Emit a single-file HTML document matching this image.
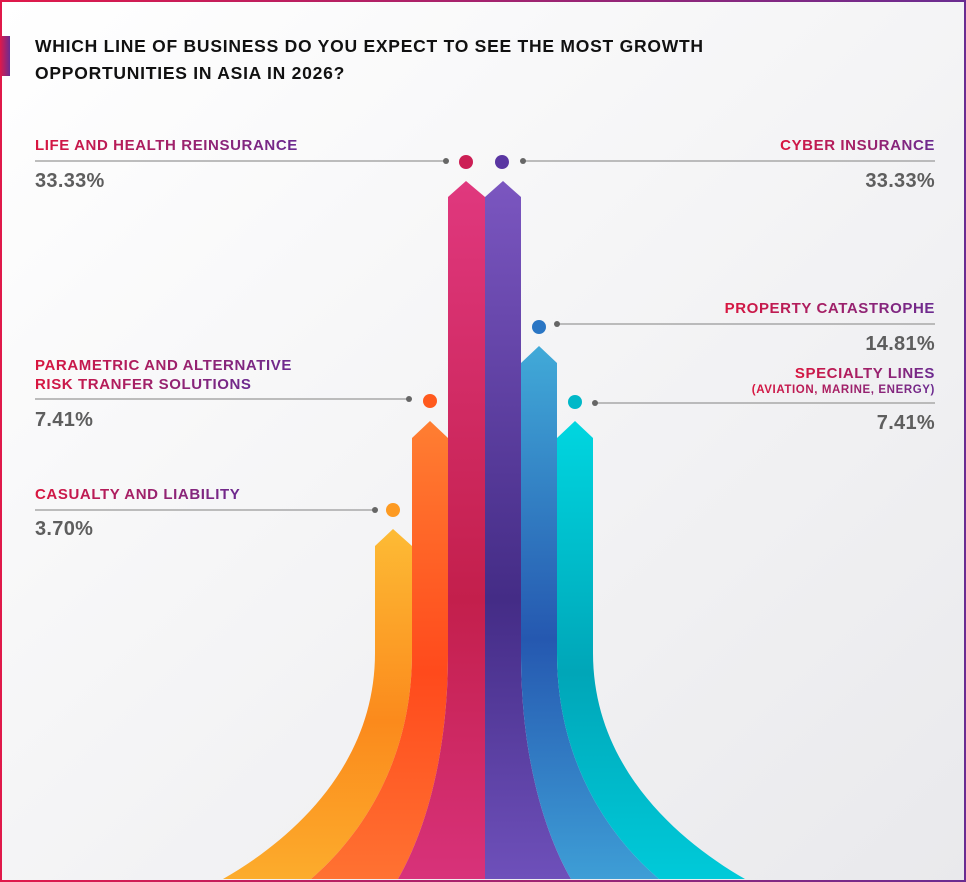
<!DOCTYPE html>
<html><head><meta charset="utf-8"><style>
html,body{margin:0;padding:0;background:#fff}
svg{display:block}
text{font-family:"Liberation Sans",sans-serif;font-weight:bold}
</style></head><body>
<svg width="966" height="882" viewBox="0 0 966 882" xmlns="http://www.w3.org/2000/svg">
<defs>
<linearGradient id="bg" x1="0" y1="0" x2="1" y2="1"><stop offset="0" stop-color="#ffffff"/><stop offset="1" stop-color="#e9e9ec"/></linearGradient>
<linearGradient id="frame" x1="0" y1="0" x2="1" y2="0"><stop offset="0" stop-color="#e0194a"/><stop offset="1" stop-color="#6a2c91"/></linearGradient>
<linearGradient id="tg" x1="0" y1="0" x2="1" y2="0"><stop offset="0" stop-color="#d9163f"/><stop offset="1" stop-color="#6b2a90"/></linearGradient>
<linearGradient id="acc" x1="0" y1="0" x2="1" y2="0"><stop offset="0" stop-color="#e0194a"/><stop offset="1" stop-color="#6a2c91"/></linearGradient>
<linearGradient id="g0" x1="0" y1="0" x2="0" y2="1"><stop offset="0" stop-color="#fdbb35"/><stop offset="0.55" stop-color="#fb8a1c"/><stop offset="1" stop-color="#fcac2c"/></linearGradient>
<linearGradient id="g1" x1="0" y1="0" x2="0" y2="1"><stop offset="0" stop-color="#ff7e32"/><stop offset="0.55" stop-color="#ff4a1c"/><stop offset="1" stop-color="#ff7232"/></linearGradient>
<linearGradient id="g2" x1="0" y1="0" x2="0" y2="1"><stop offset="0" stop-color="#e0387e"/><stop offset="0.6" stop-color="#c31f4c"/><stop offset="1" stop-color="#d8327a"/></linearGradient>
<linearGradient id="g3" x1="0" y1="0" x2="0" y2="1"><stop offset="0" stop-color="#7b56c0"/><stop offset="0.6" stop-color="#442c86"/><stop offset="1" stop-color="#6e50ba"/></linearGradient>
<linearGradient id="g4" x1="0" y1="0" x2="0" y2="1"><stop offset="0" stop-color="#41aad8"/><stop offset="0.55" stop-color="#2558b0"/><stop offset="1" stop-color="#3e9ed6"/></linearGradient>
<linearGradient id="g5" x1="0" y1="0" x2="0" y2="1"><stop offset="0" stop-color="#00d6e0"/><stop offset="0.55" stop-color="#00a6b8"/><stop offset="1" stop-color="#00cad9"/></linearGradient>
</defs>
<rect x="0" y="0" width="966" height="882" fill="url(#bg)"/>
<rect x="1" y="1" width="964" height="880" fill="none" stroke="url(#frame)" stroke-width="2"/>
<rect x="0" y="36" width="10" height="40" fill="url(#acc)"/>
<g letter-spacing="0.75">
<text x="35" y="52" font-size="17.5" fill="#111">WHICH LINE OF BUSINESS DO YOU EXPECT TO SEE THE MOST GROWTH</text>
<text x="35" y="79" font-size="17.5" fill="#111">OPPORTUNITIES IN ASIA IN 2026?</text>
</g>

<!-- bars -->
<path d="M375,546 L393,529 L412,546 L412,653 C412,766 356.4,840 311,879 L223,879 C291.4,840 375,766 375,653 Z" fill="url(#g0)"/>
<path d="M412,438 L430,421 L448,438 L448,653 C448,766 420.5,840 398,879 L311,879 C356.4,840 412,766 412,653 Z" fill="url(#g1)"/>
<path d="M448,197 L466,181 L485,197 L485,879 L398,879 C420.5,840 448,766 448,653 Z" fill="url(#g2)"/>
<path d="M485,197 L503,181 L521,197 L521,653 C521,766 548.5,840 571,879 L485,879 Z" fill="url(#g3)"/>
<path d="M521,363 L539,346 L557,363 L557,653 C557,766 613.1,840 659,879 L571,879 C548.5,840 521,766 521,653 Z" fill="url(#g4)"/>
<path d="M557,438 L575,421 L593,438 L593,653 C593,766 676.6,840 745,879 L659,879 C613.1,840 557,766 557,653 Z" fill="url(#g5)"/>

<!-- dots -->
<circle cx="466" cy="162" r="7" fill="#cc1f55"/>
<circle cx="502" cy="162" r="7" fill="#5a36a2"/>
<circle cx="539" cy="327" r="7" fill="#2a76c4"/>
<circle cx="430" cy="401" r="7" fill="#ff5a1e"/>
<circle cx="575" cy="402" r="7" fill="#00b8c8"/>
<circle cx="393" cy="510" r="7" fill="#fd9a22"/>

<!-- leader lines -->
<g stroke="#a8a8a8" stroke-width="1.5">
<line x1="35" y1="161" x2="446" y2="161"/>
<line x1="523" y1="161" x2="935" y2="161"/>
<line x1="557" y1="324" x2="935" y2="324"/>
<line x1="35" y1="399" x2="409" y2="399"/>
<line x1="595" y1="403" x2="935" y2="403"/>
<line x1="35" y1="510" x2="375" y2="510"/>
</g>
<g fill="#666">
<circle cx="446" cy="161" r="3"/><circle cx="523" cy="161" r="3"/><circle cx="557" cy="324" r="3"/>
<circle cx="409" cy="399" r="3"/><circle cx="595" cy="403" r="3"/><circle cx="375" cy="510" r="3"/>
</g>

<!-- labels -->
<g font-size="15" fill="url(#tg)" letter-spacing="0.6">
<text x="35" y="150">LIFE AND HEALTH REINSURANCE</text>
<text x="935" y="150" text-anchor="end">CYBER INSURANCE</text>
<text x="935" y="313" text-anchor="end">PROPERTY CATASTROPHE</text>
<text x="35" y="370">PARAMETRIC AND ALTERNATIVE</text>
<text x="35" y="389">RISK TRANFER SOLUTIONS</text>
<text x="935" y="378" text-anchor="end">SPECIALTY LINES</text>
<text x="935" y="393" text-anchor="end" font-size="11.5">(AVIATION, MARINE, ENERGY)</text>
<text x="35" y="499">CASUALTY AND LIABILITY</text>
</g>
<g font-size="20" fill="#5e5e5e" letter-spacing="0.3">
<text x="35" y="187">33.33%</text>
<text x="935" y="187" text-anchor="end">33.33%</text>
<text x="935" y="350" text-anchor="end">14.81%</text>
<text x="35" y="426">7.41%</text>
<text x="935" y="429" text-anchor="end">7.41%</text>
<text x="35" y="535">3.70%</text>
</g>
</svg>
</body></html>
